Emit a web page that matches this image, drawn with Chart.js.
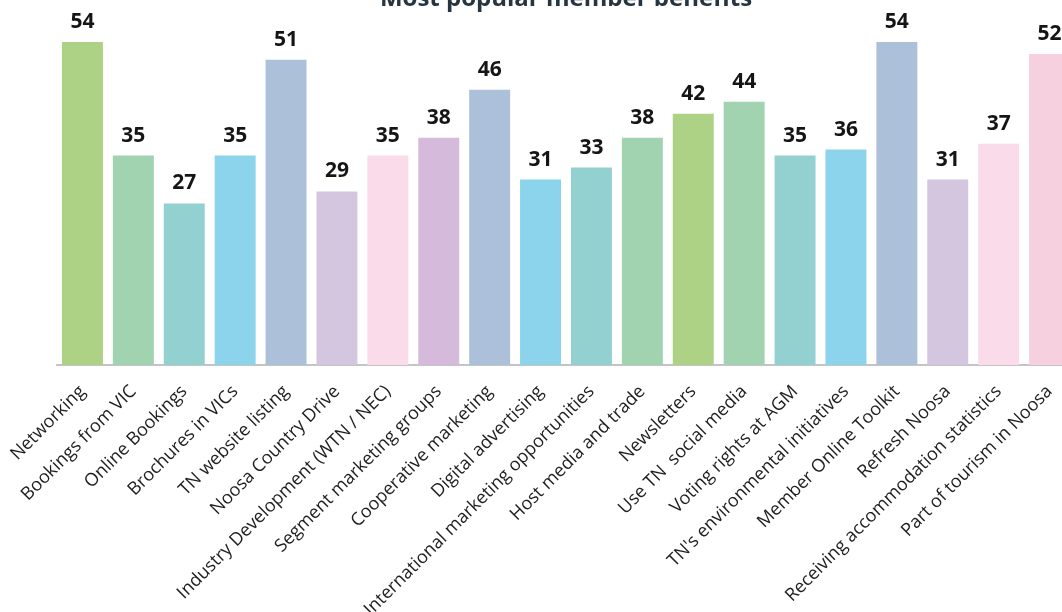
<!DOCTYPE html>
<html lang="en">
<head>
  <meta charset="UTF-8" />
  <title>Most popular member benefits</title>
  <style>
    html, body { margin: 0; padding: 0; overflow: hidden; background: #fff; }
    #wrap { position: absolute; left: 0; top: -15px; width: 1080px; height: 627px; }
  </style>
</head>
<body>
  <div id="wrap">
    <canvas id="myChart" width="1080" height="627"></canvas>
  </div>

  <script src="https://cdn.jsdelivr.net/npm/chart.js"></script>
  <script>
    const benefits = [
      'Networking', 'Bookings from VIC', 'Online Bookings', 'Brochures in VICs',
      'TN website listing', 'Noosa Country Drive', 'Industry Development (WTN / NEC)',
      'Segment marketing groups', 'Cooperative marketing', 'Digital advertising',
      'International marketing opportunities', 'Host media and trade', 'Newsletters',
      'Use TN  social media', 'Voting rights at AGM', "TN's environmental initiatives",
      'Member Online Toolkit', 'Refresh Noosa', 'Receiving accommodation statistics',
      'Part of tourism in Noosa'
    ];
    const votes = [54, 35, 27, 35, 51, 29, 35, 38, 46, 31, 33, 38, 42, 44, 35, 36, 54, 31, 37, 52];
    const barColours = [
      '#aed285', '#a2d3b0', '#93d0d0', '#8cd4eb', '#adc0d9', '#d4c6df', '#f9dbe9',
      '#d5badb', '#adc0d9', '#8cd4eb', '#93d0d0', '#a2d3b0', '#aed285', '#a2d3b0',
      '#93d0d0', '#8cd4eb', '#adc0d9', '#d4c6df', '#f9dbe9', '#f6d0de'
    ];

    // prints each bar's count above it
    const valueLabels = {
      id: 'valueLabels',
      afterDatasetsDraw(chart) {
        const ctx = chart.ctx;
        const meta = chart.getDatasetMeta(0);
        ctx.save();
        ctx.font = 'bold 21px "Open Sans"';
        ctx.fillStyle = '#151515';
        ctx.textAlign = 'center';
        ctx.textBaseline = 'alphabetic';
        meta.data.forEach((bar, i) => {
          ctx.fillText(String(votes[i]), bar.x, bar.y - 14);
        });
        ctx.restore();
      }
    };

    const ctx = document.getElementById('myChart');
    new Chart(ctx, {
      type: 'bar',
      data: {
        labels: benefits,
        datasets: [{
          data: votes,
          backgroundColor: barColours,
          borderWidth: 0,
          categoryPercentage: 1,
          barPercentage: 0.805
        }]
      },
      options: {
        responsive: false,
        animation: false,
        layout: { padding: { left: 57, right: 5, top: 0, bottom: 0 } },
        plugins: {
          legend: { display: false },
          tooltip: { enabled: false },
          title: {
            display: true,
            text: 'Most popular member benefits',
            color: '#263540',
            font: { family: '"Open Sans"', size: 24, weight: 'bold', lineHeight: 1.2 },
            padding: { top: 0, bottom: 0 }
          }
        },
        scales: {
          x: {
            grid: { display: false },
            border: { display: true, color: '#c4c4c4', width: 2 },
            ticks: {
              color: '#1e1e1e',
              font: { family: '"Open Sans"', size: 18 },
              minRotation: 45,
              maxRotation: 45,
              autoSkip: false,
              padding: 8
            },
            afterFit(scale) {
              scale.height = 247;
              scale.paddingLeft = 0;
              scale.paddingRight = 0;
            }
          },
          y: {
            display: false,
            min: 0,
            max: 58.7
          }
        }
      },
      plugins: [valueLabels]
    });
  </script>
</body>
</html>
